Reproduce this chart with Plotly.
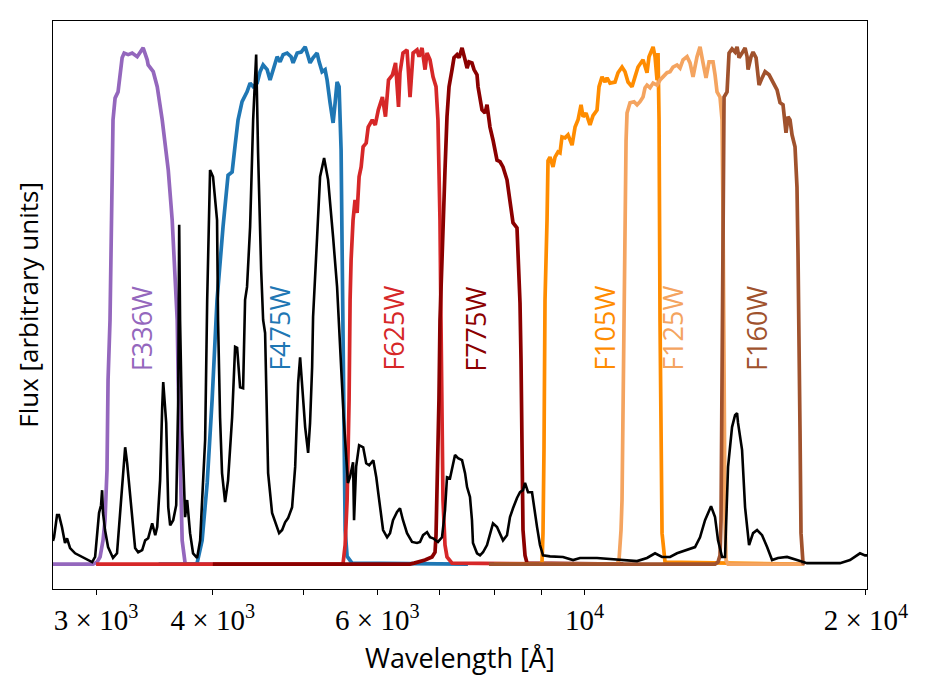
import numpy as np
import plotly.graph_objects as go

# ---------------- data ----------------
spec_wl = [2698, 2705, 2725, 2738, 2758, 2779, 2793, 2814, 2849, 2899, 2934, 2971, 2993, 3022, 3037, 3045,
           3052, 3067, 3090, 3128, 3159, 3199, 3223, 3239, 3279, 3303, 3328, 3361, 3386, 3411, 3445, 3471,
           3488, 3513, 3531, 3540, 3566, 3584, 3601, 3628, 3655, 3673, 3682, 3690, 3709, 3736, 3755, 3782,
           3810, 3848, 3877, 3906, 3925, 3945, 3973, 4002, 4042, 4052, 4072, 4092, 4123, 4153, 4195, 4226,
           4247, 4278, 4310, 4331, 4352, 4385, 4418, 4451, 4472, 4506, 4528, 4550, 4584, 4629, 4687, 4710,
           4745, 4780, 4815, 4863, 4900, 4936, 4960, 4985, 5022, 5059, 5083, 5109, 5121, 5172, 5210, 5262,
           5314, 5380, 5433, 5522, 5580, 5608, 5651, 5665, 5694, 5736, 5794, 5837, 5881, 5940, 5984, 6014,
           6040, 6085, 6146, 6190, 6236, 6298, 6344, 6391, 6455, 6535, 6616, 6665, 6715, 6781, 6831, 6882,
           6966, 7036, 7088, 7123, 7176, 7229, 7265, 7320, 7392, 7447, 7484, 7538, 7575, 7594, 7670, 7727,
           7784, 7861, 7919, 7978, 8057, 8117, 8177, 8258, 8319, 8381, 8464, 8527, 8590, 8633, 8697, 8783,
           8827, 8892, 8957, 9024, 9181, 9479, 9718, 9886, 10309, 10644, 10994, 11378, 11660, 11893, 12100,
           12341, 12554, 12869, 13125, 13287, 13452, 13653, 13788, 13890, 14028, 14132, 14237, 14378, 14485,
           14557, 14592, 14737, 14847, 14994, 15143, 15293, 15482, 15675, 15868, 16101, 16464, 16873, 17296,
           17858, 18760, 19228, 19707, 19953, 20050]
spec_flux = [0.045, 0.052, 0.095, 0.095, 0.072, 0.041, 0.050, 0.031, 0.021, 0.014, 0.008, 0.004, 0.014, 0.099, 0.114, 0.143,
             0.099, 0.066, 0.033, 0.012, 0.021, 0.162, 0.226, 0.195, 0.085, 0.031, 0.023, 0.027, 0.046, 0.050, 0.079, 0.056,
             0.072, 0.162, 0.304, 0.352, 0.273, 0.110, 0.075, 0.085, 0.114, 0.317, 0.656, 0.472, 0.259, 0.091, 0.124, 0.060,
             0.021, 0.012, 0.046, 0.149, 0.240, 0.511, 0.762, 0.749, 0.665, 0.472, 0.284, 0.176, 0.120, 0.162, 0.284, 0.420,
             0.418, 0.342, 0.340, 0.511, 0.536, 0.652, 0.859, 0.985, 0.795, 0.569, 0.472, 0.447, 0.176, 0.099, 0.072, 0.060,
             0.066, 0.081, 0.089, 0.110, 0.188, 0.350, 0.400, 0.337, 0.265, 0.215, 0.273, 0.381, 0.478, 0.632, 0.749, 0.785,
             0.743, 0.632, 0.536, 0.284, 0.157, 0.168, 0.197, 0.085, 0.188, 0.230, 0.226, 0.195, 0.191, 0.201, 0.168, 0.137,
             0.110, 0.066, 0.052, 0.060, 0.085, 0.101, 0.108, 0.085, 0.060, 0.043, 0.041, 0.043, 0.056, 0.062, 0.052, 0.050,
             0.043, 0.052, 0.104, 0.168, 0.166, 0.195, 0.211, 0.205, 0.201, 0.176, 0.149, 0.130, 0.085, 0.041, 0.021, 0.017,
             0.023, 0.037, 0.056, 0.079, 0.072, 0.060, 0.046, 0.056, 0.091, 0.108, 0.128, 0.139, 0.143, 0.157, 0.139, 0.139,
             0.110, 0.072, 0.037, 0.017, 0.015, 0.014, 0.008, 0.012, 0.012, 0.010, 0.008, 0.006, 0.012, 0.021, 0.014,
             0.014, 0.021, 0.027, 0.033, 0.052, 0.085, 0.112, 0.091, 0.046, 0.014, 0.014, 0.188, 0.265, 0.288,
             0.292, 0.273, 0.221, 0.110, 0.037, 0.060, 0.066, 0.056, 0.033, 0.008, 0.012, 0.014, 0.008, 0.002,
             0.002, 0.002, 0.008, 0.021, 0.017, 0.017]

filter_names = ["F336W", "F475W", "F625W", "F775W", "F105W", "F125W", "F160W"]
filter_colors = ["#9467bd", "#1f77b4", "#d62728", "#8b0000", "#ff8c00", "#f4a460", "#a0522d"]

f336w_wl = [2600, 2978, 3007, 3030, 3052, 3067, 3082, 3090, 3105, 3120, 3128, 3144, 3167, 3199, 3215, 3247,
            3279, 3320, 3344, 3369, 3403, 3411, 3454, 3488, 3531, 3557, 3584, 3619, 3646, 3664, 3673, 3690,
            3709, 3736, 3764, 4000]
f336w_t = [0, 0, 0.004, 0.014, 0.046, 0.085, 0.182, 0.356, 0.472, 0.762, 0.859, 0.901, 0.913, 0.979, 0.988, 0.985,
           0.988, 0.981, 0.990, 0.998, 0.975, 0.965, 0.952, 0.923, 0.859, 0.807, 0.762, 0.665, 0.536, 0.472, 0.356, 0.188,
           0.046, 0.002, 0, 0]

f475w_wl = [3500, 3820, 3848, 3896, 3945, 3993, 4042, 4072, 4102, 4153, 4195, 4226, 4257, 4299, 4352, 4385, 4418,
            4462, 4494, 4528, 4573, 4606, 4640, 4687, 4721, 4757, 4804, 4851, 4875, 4924, 4973, 5022, 5046,
            5083, 5121, 5172, 5198, 5236, 5275, 5301, 5340, 5380, 5407, 5433, 5460, 5487, 5501, 5514, 5528,
            5542, 5569, 5637, 7500]
f475w_t = [0, 0, 0.002, 0.046, 0.157, 0.317, 0.511, 0.588, 0.652, 0.752, 0.758, 0.810, 0.859, 0.894, 0.913, 0.930, 0.923,
           0.930, 0.952, 0.965, 0.956, 0.936, 0.956, 0.981, 0.971, 0.985, 0.988, 0.981, 0.969, 0.988, 0.990, 1.0, 0.988,
           0.969, 0.979, 0.988, 0.971, 0.952, 0.956, 0.936, 0.892, 0.853, 0.892, 0.932, 0.923, 0.801, 0.607, 0.414, 0.221,
           0.066, 0.015, 0.002, 0]

f625w_wl = [3000, 5490, 5514, 5542, 5569, 5596, 5610, 5624, 5651, 5679, 5708, 5736, 5765, 5793, 5837, 5866, 5925,
            5969, 6014, 6075, 6121, 6167, 6228, 6275, 6321, 6344, 6391, 6455, 6503, 6552, 6616, 6649, 6698,
            6748, 6781, 6831, 6882, 6933, 6966, 7001, 7018, 7036, 7053, 7088, 7123, 7212, 10000]
f625w_t = [0, 0, 0.002, 0.037, 0.124, 0.317, 0.511, 0.588, 0.665, 0.704, 0.679, 0.749, 0.768, 0.807, 0.814, 0.845, 0.859,
           0.849, 0.878, 0.903, 0.865, 0.936, 0.946, 0.969, 0.884, 0.950, 0.988, 0.994, 0.903, 0.988, 0.994, 0.981, 0.998,
           0.956, 0.988, 0.975, 0.942, 0.923, 0.859, 0.665, 0.472, 0.317, 0.124, 0.037, 0.014, 0.002, 0]

f775w_wl = [4000, 6500, 6568, 6748, 6865, 6916, 6933, 6950, 6966, 6983, 7001, 7036, 7053, 7088, 7123, 7159, 7212,
            7247, 7301, 7338, 7392, 7411, 7447, 7484, 7520, 7575, 7613, 7670, 7689, 7765, 7823, 7861, 7919,
            7978, 8057, 8117, 8177, 8258, 8319, 8381, 8464, 8485, 8527, 8548, 8569, 8590, 8633, 8676, 11000]
f775w_t = [0, 0, 0.002, 0.008, 0.014, 0.023, 0.056, 0.124, 0.221, 0.317, 0.472, 0.607, 0.652, 0.762, 0.865, 0.923, 0.956,
           0.979, 0.985, 0.979, 0.998, 0.988, 0.975, 0.959, 0.971, 0.969, 0.956, 0.946, 0.923, 0.878, 0.872, 0.888, 0.845,
           0.820, 0.781, 0.778, 0.768, 0.743, 0.698, 0.660, 0.650, 0.602, 0.505, 0.395, 0.221, 0.066, 0.017, 0.002, 0]

f105w_wl = [8000, 8957, 9002, 9024, 9046, 9069, 9114, 9136, 9181, 9249, 9295, 9364, 9410, 9456, 9527, 9598, 9694,
            9766, 9838, 9911, 9960, 10034, 10132, 10207, 10309, 10360, 10437, 10515, 10567, 10644, 10776, 10856,
            10964, 11045, 11127, 11237, 11320, 11405, 11546, 11660, 11718, 11836, 11893, 11952, 11981, 12011,
            12040, 12070, 12100, 12190, 17000]
f105w_t = [0, 0, 0.004, 0.060, 0.221, 0.511, 0.665, 0.780, 0.787, 0.768, 0.787, 0.797, 0.795, 0.826, 0.824, 0.830, 0.810,
           0.845, 0.859, 0.888, 0.865, 0.872, 0.849, 0.867, 0.878, 0.923, 0.942, 0.932, 0.940, 0.930, 0.932, 0.950,
           0.961, 0.952, 0.932, 0.923, 0.942, 0.961, 0.975, 0.950, 0.981, 1.0, 0.981, 0.936, 0.988, 0.859,
           0.472, 0.259, 0.060, 0.004, 0]

f125w_wl = [9000, 10829, 10883, 10937, 10964, 10991, 11018, 11045, 11073, 11100, 11182, 11293, 11378, 11461, 11546,
            11604, 11660, 11747, 11836, 11952, 12040, 12129, 12249, 12341, 12432, 12554, 12648, 12742, 12869,
            12964, 13060, 13189, 13287, 13386, 13485, 13586, 13720, 13788, 13856, 13958, 14028, 14063, 14080,
            14097, 14132, 14167, 14237, 17150]
f125w_t = [0, 0, 0.008, 0.066, 0.124, 0.317, 0.511, 0.702, 0.818, 0.872, 0.892, 0.894, 0.888, 0.894, 0.903,
           0.921, 0.926, 0.921, 0.930, 0.926, 0.936, 0.942, 0.950, 0.952, 0.961, 0.965, 0.959, 0.975, 0.981,
           0.969, 0.942, 0.981, 1.0, 0.969, 0.940, 0.971, 0.971, 0.946, 0.913, 0.903, 0.859, 0.665, 0.472,
           0.277, 0.085, 0.008, 0, 0]

f160w_wl = [7900, 13788, 13890, 13958, 13993, 14028, 14045, 14063, 14080, 14097, 14202, 14272, 14378, 14485, 14557,
            14628, 14737, 14847, 14921, 14957, 15068, 15143, 15255, 15368, 15482, 15597, 15752, 15907, 16064,
            16182, 16302, 16423, 16504, 16586, 16668, 16791, 16873, 16915, 16957, 16999, 17041, 17125, 17210]
f160w_t = [0, 0, 0.004, 0.017, 0.085, 0.317, 0.511, 0.702, 0.801, 0.903, 0.913, 0.988, 0.996, 0.990, 1.0,
           0.979, 0.988, 0.998, 0.981, 0.956, 0.981, 0.990, 0.979, 0.926, 0.940, 0.952, 0.946, 0.930, 0.917,
           0.892, 0.888, 0.834, 0.865, 0.859, 0.830, 0.807, 0.729, 0.602, 0.472, 0.259, 0.060, 0.002, 0]

filter_wls = [f336w_wl, f475w_wl, f625w_wl, f775w_wl, f105w_wl, f125w_wl, f160w_wl]
filter_ts = [f336w_t, f475w_t, f625w_t, f775w_t, f105w_t, f125w_t, f160w_t]

label_wl = [3354, 4721, 6251, 7650, 10515, 12432, 15293]
label_level = 0.455

tick_vals = [3000, 4000, 5000, 6000, 7000, 8000, 9000, 10000, 20000]
tick_text = ["3 × 10<sup>3</sup>", "4 × 10<sup>3</sup>", "", "6 × 10<sup>3</sup>", "", "", "",
             "10<sup>4</sup>", "2 × 10<sup>4</sup>"]

x_min, x_max = 2698, 20050
y_min, y_max = -0.048, 1.050

# ---------------- figure ----------------
fig = go.Figure()
for name, col, wl, t in zip(filter_names, filter_colors, filter_wls, filter_ts):
    fig.add_trace(go.Scatter(x=wl, y=t, mode="lines", name=name,
                             line=dict(color=col, width=3.7), showlegend=False))

fig.add_trace(go.Scatter(x=spec_wl, y=spec_flux, mode="lines", name="spectrum",
                         line=dict(color="black", width=2.6), showlegend=False))

for name, col, wl in zip(filter_names, filter_colors, label_wl):
    fig.add_annotation(x=np.log10(wl), y=label_level, xref="x", yref="y", text=name,
                       textangle=-90, showarrow=False, xanchor="center", yanchor="middle",
                       font=dict(family="Open Sans", size=27, color=col))

fig.add_annotation(x=0.5, y=-0.12, xref="paper", yref="paper", text="Wavelength [Å]",
                   showarrow=False, xanchor="center", yanchor="middle",
                   font=dict(family="Open Sans", size=27, color="black"))
fig.add_annotation(x=-0.031, y=0.5, xref="paper", yref="paper", text="Flux [arbitrary units]",
                   showarrow=False, xanchor="center", yanchor="middle", textangle=-90,
                   font=dict(family="Open Sans", size=26, color="black"))

fig.update_xaxes(type="log", range=[np.log10(x_min), np.log10(x_max)],
                 tickvals=tick_vals, ticktext=tick_text, ticks="outside", ticklen=5,
                 tickwidth=1, tickcolor="black", showgrid=False, zeroline=False,
                 showline=True, linecolor="black", linewidth=1.3, mirror=True,
                 tickfont=dict(family="Liberation Serif", size=29, color="black"))
fig.update_yaxes(range=[y_min, y_max], showticklabels=False, ticks="", showgrid=False,
                 zeroline=False, showline=True, linecolor="black", linewidth=1.3, mirror=True)

fig.update_layout(width=927, height=690, margin=dict(l=53, r=60, t=21, b=101),
                  plot_bgcolor="white", paper_bgcolor="white", showlegend=False)

fig.write_html("out.html")
